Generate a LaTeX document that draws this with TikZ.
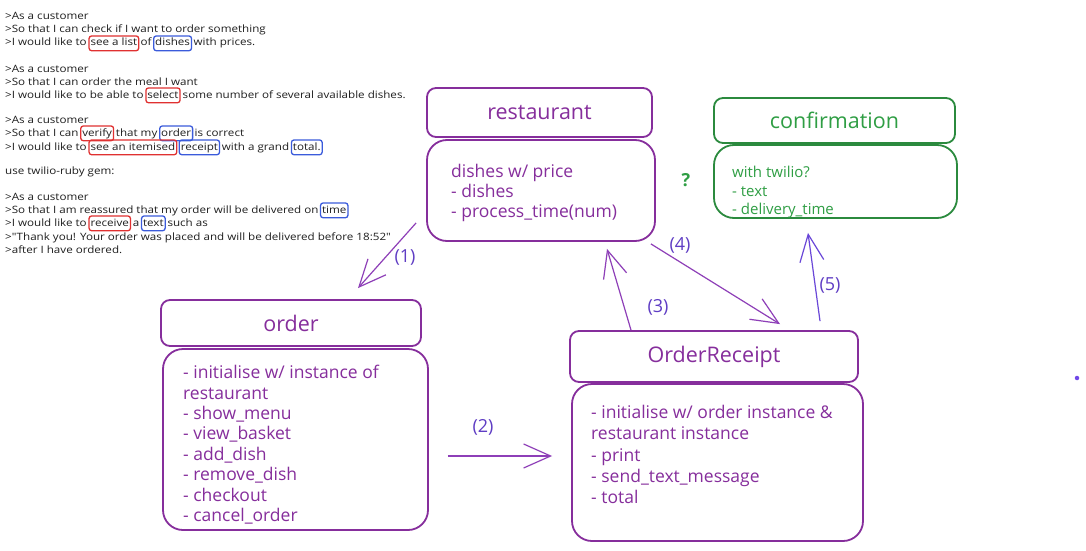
\documentclass[tikz,border=0pt]{standalone}
\usepackage{fontspec}
\setmainfont{Open Sans}
\newfontfamily\handfont[FakeStretch=1.15]{Open Sans}
\usetikzlibrary{arrows.meta,calc}
\definecolor{ink}{HTML}{1E1E1E}
\definecolor{purp}{HTML}{862E9C}
\definecolor{arrc}{HTML}{8E3FB8}
\definecolor{labc}{HTML}{5F3DC4}
\definecolor{arr5}{HTML}{6A47D8}
\definecolor{grn}{HTML}{2F9E44}
\definecolor{grnbox}{HTML}{2B8A3E}
\definecolor{hlred}{HTML}{E03131}
\definecolor{hlblue}{HTML}{3B5BDB}
\definecolor{dotc}{HTML}{7048E8}
\begin{document}
\begin{tikzpicture}[x=1pt,y=-1pt,
  txt/.style={inner sep=0pt, anchor=base west, text=ink, font=\handfont\fontsize{10.1}{12}\selectfont},
  hlbox/.style={txt, line width=1.3pt, rounded corners=2.5pt, inner xsep=1.5pt, inner ysep=2.5pt, text height=7.5pt, text depth=2.2pt},
  rbox/.style={hlbox, draw=hlred},
  bbox/.style={hlbox, draw=hlblue},
  titlebox/.style={draw=purp, line width=1.8pt, rounded corners=9pt, text=purp, font=\fontsize{21.5}{24}\selectfont, inner sep=0pt},
  bodybox/.style={draw=purp, line width=1.8pt, rounded corners=20pt, inner sep=0pt},
  bodytxt/.style={inner sep=0pt, anchor=base west, text=purp, font=\fontsize{17.5}{20}\selectfont},
  gtxt/.style={inner sep=0pt, anchor=base west, text=grn, font=\fontsize{15}{18}\selectfont},
  lab/.style={text=labc, font=\fontsize{18}{20}\selectfont, inner sep=0pt},
  arr/.style={draw=arrc, line width=1.2pt, -{Straight Barb[length=27pt,width=24pt,line width=1.2pt]}},
]
\useasboundingbox[fill=white] (0,0) rectangle (1086,551);

% ---------- left user stories ----------
\node[txt] (l1) at (5,20) {>As a customer};
\node[txt] (l2) at (5,33) {>So that I can check if I want to order something};
\node[txt] (l3a) at (5,46) {>I would like to};
\node[rbox] (l3b) at ([xshift=1.5pt]l3a.base east) {see a list};
\node[txt] (l3c) at ([xshift=1.2pt]l3b.base east) {of};
\node[bbox] (l3d) at ([xshift=1.2pt]l3c.base east) {dishes};
\node[txt] (l3e) at ([xshift=1.2pt]l3d.base east) {with prices.};

\node[txt] (l4) at (5,72) {>As a customer};
\node[txt] (l5) at (5,85) {>So that I can order the meal I want};
\node[txt] (l6a) at (5,98) {>I would like to be able to};
\node[rbox] (l6b) at ([xshift=1.5pt]l6a.base east) {select};
\node[txt] (l6c) at ([xshift=1.8pt]l6b.base east) {some number of several available dishes.};

\node[txt] (l7) at (5,123) {>As a customer};
\node[txt] (l8a) at (5,136) {>So that I can};
\node[rbox] (l8b) at ([xshift=1.5pt]l8a.base east) {verify};
\node[txt] (l8c) at ([xshift=1.5pt]l8b.base east) {that my};
\node[bbox] (l8d) at ([xshift=1.5pt]l8c.base east) {order};
\node[txt] (l8e) at ([xshift=1.2pt]l8d.base east) {is correct};
\node[txt] (l9a) at (5,150) {>I would like to};
\node[rbox] (l9b) at ([xshift=1.5pt]l9a.base east) {see an itemised};
\node[bbox] (l9c) at ([xshift=1.2pt]l9b.base east) {receipt};
\node[txt] (l9d) at ([xshift=1.5pt]l9c.base east) {with a grand};
\node[bbox] (l9e) at ([xshift=1.5pt]l9d.base east) {total.};

\node[txt] (l10) at (5,174) {use twilio-ruby gem:};

\node[txt] (l11) at (5,200) {>As a customer};
\node[txt] (l12a) at (5,213) {>So that I am reassured that my order will be delivered on};
\node[bbox] (l12b) at ([xshift=1.2pt]l12a.base east) {time};
\node[txt] (l13a) at (5,226) {>I would like to};
\node[rbox] (l13b) at ([xshift=1.5pt]l13a.base east) {receive};
\node[txt] (l13c) at ([xshift=1.5pt]l13b.base east) {a};
\node[bbox] (l13d) at ([xshift=1.5pt]l13c.base east) {text};
\node[txt] (l13e) at ([xshift=1.5pt]l13d.base east) {such as};
\node[txt] (l14) at (5,240) {>"Thank you! Your order was placed and will be delivered before 18:52"};
\node[txt] (l15) at (5,253) {>after I have ordered.};

% ---------- restaurant ----------
\node[titlebox, minimum width=225pt, minimum height=49pt] (rtitle) at (539.5,112.5) {restaurant};
\node[bodybox, minimum width=228pt, minimum height=101pt] (rbody) at (541,190.5) {};
\node[bodytxt] (rb1) at (451,177.5) {dishes w/ price};
\node[bodytxt] (rb2) at (451,197) {- dishes};
\node[bodytxt] (rb3) at (451,217) {- process\_time(num)};

% ---------- confirmation ----------
\node[titlebox, draw=grnbox, text=grn, minimum width=241pt, minimum height=45pt] (ctitle) at (834.5,120.5) {confirmation};
\node[bodybox, draw=grnbox, minimum width=243pt, minimum height=73pt] (cbody) at (835.5,181.5) {};
\node[gtxt] (cb1) at (732,177) {with twilio?};
\node[gtxt] (cb2) at (732,196) {- text};
\node[gtxt] (cb3) at (732,214) {- delivery\_time};
\node[text=grn, font=\bfseries\fontsize{18}{20}\selectfont, inner sep=0pt] (q) at (686,180) {?};

% ---------- order ----------
\node[titlebox, minimum width=260pt, minimum height=46pt] (otitle) at (291,323) {order};
\node[bodybox, minimum width=265pt, minimum height=181pt] (obody) at (295.5,439.5) {};
\foreach \t [count=\i from 0] in {- initialise w/ instance of, restaurant, - show\_menu, - view\_basket, - add\_dish, - remove\_dish, - checkout, - cancel\_order}
  \node[bodytxt] (ob\i) at (183,{378.6+20.4*\i}) {\t};

% ---------- OrderReceipt ----------
\node[titlebox, minimum width=288pt, minimum height=51pt] (ortitle) at (714,356.5) {OrderReceipt};
\node[bodybox, minimum width=291pt, minimum height=157pt] (orbody) at (717.5,462.5) {};
\foreach \t [count=\i from 0] in {- initialise w/ order instance \&, restaurant instance, - print, - send\_text\_message, - total}
  \node[bodytxt] (orb\i) at (591,{418.6+21.2*\i}) {\t};

% ---------- arrows ----------
\draw[arr] ($(rbody.south west)+(-10,-19)$) -- ($(otitle.north)+(67,-11)$);
\draw[arr] ($(obody.east)+(19,16.5)$) -- ($(orbody.west)+(-19,-6.5)$);
\draw[arr] ($(ortitle.north)+(-83,0)$) -- ($(rbody.south)+(66,7)$);
\draw[arr] ($(rbody.south east)+(-5,2)$) -- ($(ortitle.north)+(66,-6)$);
\draw[arr, draw=arr5] ($(ortitle.north)+(106,-9)$) -- ($(cbody.south)+(-27.5,14)$);

\node[lab] (lab1) at (405,257) {(1)};
\node[lab] (lab2) at (483,427) {(2)};
\node[lab] (lab3) at (658,307) {(3)};
\node[lab] (lab4) at (680,245) {(4)};
\node[lab] (lab5) at (830,285) {(5)};

\node[circle, fill=dotc, inner sep=0pt, minimum size=4.5pt] (dot) at (1077,378) {};
\end{tikzpicture}
\end{document}
